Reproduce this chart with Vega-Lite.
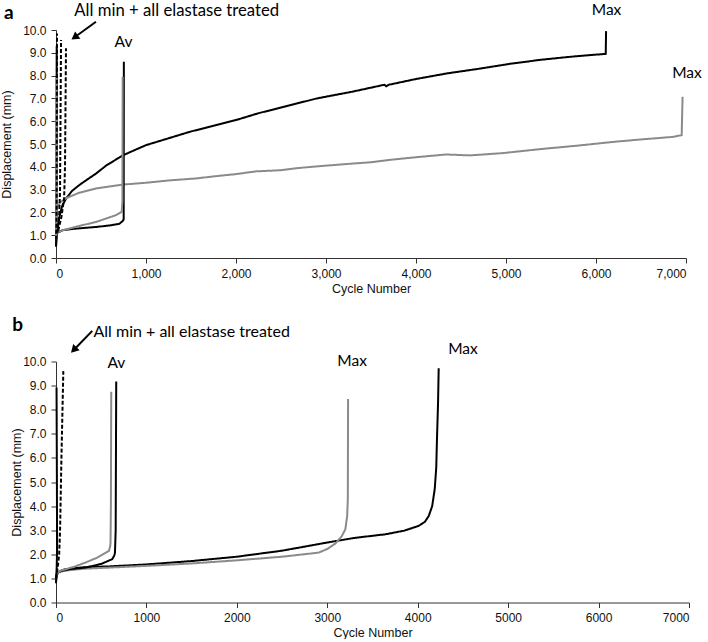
{
  "$schema": "https://vega.github.io/schema/vega-lite/v6.json",
  "padding": {"top": 2, "left": 0, "right": 0, "bottom": 0},
  "columns": 1,
  "align": "none",
  "spacing": 20.5,
  "resolve": {"scale": {"color": "independent", "strokeDash": "independent"}},
  "config": {
    "view": {"stroke": null},
    "font": "Liberation Sans",
    "axis": {
      "grid": false,
      "domainColor": "#333",
      "tickColor": "#333",
      "tickSize": 5,
      "labelFont": "Liberation Sans",
      "labelFontSize": 12,
      "labelColor": "#111",
      "titleFont": "Liberation Sans",
      "titleFontSize": 12.5,
      "titleFontWeight": "normal",
      "titleColor": "#111"
    }
  },
  "concat": [
    {
      "width": 630,
      "height": 228,
      "encoding": {
        "x": {"field": "cycle", "type": "quantitative", "scale": {"domain": [0, 7000], "nice": false},
              "axis": {"title": "Cycle Number", "values": [0, 1000, 2000, 3000, 4000, 5000, 6000, 7000], "format": ",d", "labelPadding": 5, "titlePadding": 3}},
        "y": {"field": "disp", "type": "quantitative", "scale": {"domain": [0, 10], "nice": false},
              "axis": {"title": "Displacement (mm)", "values": [0,1,2,3,4,5,6,7,8,9,10], "format": ".1f", "labelPadding": 5, "titlePadding": 9}}
      },
      "layer": [
        {
          "data": {"values": [
            {"s":"Max A","i":0,"cycle":0,"disp":0.5},{"s":"Max A","i":1,"cycle":10,"disp":1.0},{"s":"Max A","i":2,"cycle":25,"disp":1.5},{"s":"Max A","i":3,"cycle":40,"disp":1.85},{"s":"Max A","i":4,"cycle":70,"disp":2.3},{"s":"Max A","i":5,"cycle":111,"disp":2.6},{"s":"Max A","i":6,"cycle":180,"disp":2.95},{"s":"Max A","i":7,"cycle":259,"disp":3.2},{"s":"Max A","i":8,"cycle":350,"disp":3.45},{"s":"Max A","i":9,"cycle":444,"disp":3.7},{"s":"Max A","i":10,"cycle":556,"disp":4.05},{"s":"Max A","i":11,"cycle":741,"disp":4.5},{"s":"Max A","i":12,"cycle":1000,"disp":4.95},{"s":"Max A","i":13,"cycle":1250,"disp":5.25},{"s":"Max A","i":14,"cycle":1500,"disp":5.55},{"s":"Max A","i":15,"cycle":1750,"disp":5.8},{"s":"Max A","i":16,"cycle":2000,"disp":6.05},{"s":"Max A","i":17,"cycle":2250,"disp":6.35},{"s":"Max A","i":18,"cycle":2500,"disp":6.6},{"s":"Max A","i":19,"cycle":2900,"disp":7.0},{"s":"Max A","i":20,"cycle":3300,"disp":7.3},{"s":"Max A","i":21,"cycle":3650,"disp":7.6},{"s":"Max A","i":22,"cycle":3670,"disp":7.53},{"s":"Max A","i":23,"cycle":3700,"disp":7.6},{"s":"Max A","i":24,"cycle":4000,"disp":7.85},{"s":"Max A","i":25,"cycle":4350,"disp":8.1},{"s":"Max A","i":26,"cycle":4700,"disp":8.3},{"s":"Max A","i":27,"cycle":5050,"disp":8.52},{"s":"Max A","i":28,"cycle":5400,"disp":8.7},{"s":"Max A","i":29,"cycle":5700,"disp":8.82},{"s":"Max A","i":30,"cycle":6000,"disp":8.92},{"s":"Max A","i":31,"cycle":6108,"disp":8.95},{"s":"Max A","i":32,"cycle":6112,"disp":9.95},
            {"s":"Max B","i":0,"cycle":0,"disp":0.8},{"s":"Max B","i":1,"cycle":3,"disp":1.8},{"s":"Max B","i":2,"cycle":8,"disp":2.2},{"s":"Max B","i":3,"cycle":50,"disp":2.45},{"s":"Max B","i":4,"cycle":111,"disp":2.62},{"s":"Max B","i":5,"cycle":250,"disp":2.85},{"s":"Max B","i":6,"cycle":444,"disp":3.05},{"s":"Max B","i":7,"cycle":741,"disp":3.22},{"s":"Max B","i":8,"cycle":1000,"disp":3.3},{"s":"Max B","i":9,"cycle":1250,"disp":3.4},{"s":"Max B","i":10,"cycle":1556,"disp":3.49},{"s":"Max B","i":11,"cycle":1800,"disp":3.6},{"s":"Max B","i":12,"cycle":2000,"disp":3.68},{"s":"Max B","i":13,"cycle":2222,"disp":3.8},{"s":"Max B","i":14,"cycle":2500,"disp":3.85},{"s":"Max B","i":15,"cycle":2700,"disp":3.95},{"s":"Max B","i":16,"cycle":3000,"disp":4.05},{"s":"Max B","i":17,"cycle":3222,"disp":4.12},{"s":"Max B","i":18,"cycle":3500,"disp":4.2},{"s":"Max B","i":19,"cycle":3700,"disp":4.3},{"s":"Max B","i":20,"cycle":4000,"disp":4.42},{"s":"Max B","i":21,"cycle":4333,"disp":4.54},{"s":"Max B","i":22,"cycle":4600,"disp":4.5},{"s":"Max B","i":23,"cycle":4963,"disp":4.6},{"s":"Max B","i":24,"cycle":5200,"disp":4.7},{"s":"Max B","i":25,"cycle":5444,"disp":4.8},{"s":"Max B","i":26,"cycle":5800,"disp":4.93},{"s":"Max B","i":27,"cycle":6185,"disp":5.09},{"s":"Max B","i":28,"cycle":6500,"disp":5.2},{"s":"Max B","i":29,"cycle":6852,"disp":5.31},{"s":"Max B","i":30,"cycle":6952,"disp":5.39},{"s":"Max B","i":31,"cycle":6962,"disp":7.07},
            {"s":"Av A","i":0,"cycle":0,"disp":0.9},{"s":"Av A","i":1,"cycle":10,"disp":1.1},{"s":"Av A","i":2,"cycle":74,"disp":1.22},{"s":"Av A","i":3,"cycle":200,"disp":1.28},{"s":"Av A","i":4,"cycle":444,"disp":1.36},{"s":"Av A","i":5,"cycle":600,"disp":1.43},{"s":"Av A","i":6,"cycle":704,"disp":1.5},{"s":"Av A","i":7,"cycle":741,"disp":1.62},{"s":"Av A","i":8,"cycle":752,"disp":1.7},{"s":"Av A","i":9,"cycle":754,"disp":8.61},
            {"s":"Av B","i":0,"cycle":0,"disp":0.9},{"s":"Av B","i":1,"cycle":10,"disp":1.1},{"s":"Av B","i":2,"cycle":74,"disp":1.22},{"s":"Av B","i":3,"cycle":200,"disp":1.35},{"s":"Av B","i":4,"cycle":444,"disp":1.58},{"s":"Av B","i":5,"cycle":667,"disp":1.88},{"s":"Av B","i":6,"cycle":730,"disp":2.02},{"s":"Av B","i":7,"cycle":738,"disp":2.5},{"s":"Av B","i":8,"cycle":741,"disp":7.95},
            {"s":"Min A","i":0,"cycle":0,"disp":0.5},{"s":"Min A","i":1,"cycle":4,"disp":1.2},{"s":"Min A","i":2,"cycle":6,"disp":5},{"s":"Min A","i":3,"cycle":8,"disp":9.3},
            {"s":"Min B","i":0,"cycle":0,"disp":0.8},{"s":"Min B","i":1,"cycle":3,"disp":2},{"s":"Min B","i":2,"cycle":5,"disp":7.9},
            {"s":"Elastase 1","i":0,"cycle":0,"disp":0.8},{"s":"Elastase 1","i":1,"cycle":5,"disp":1.5},{"s":"Elastase 1","i":2,"cycle":8,"disp":3},{"s":"Elastase 1","i":3,"cycle":11,"disp":9.85},
            {"s":"Elastase 2","i":0,"cycle":15,"disp":1.1},{"s":"Elastase 2","i":1,"cycle":35,"disp":1.8},{"s":"Elastase 2","i":2,"cycle":45,"disp":3},{"s":"Elastase 2","i":3,"cycle":56,"disp":9.56},
            {"s":"Elastase 3","i":0,"cycle":25,"disp":1.2},{"s":"Elastase 3","i":1,"cycle":60,"disp":1.8},{"s":"Elastase 3","i":2,"cycle":90,"disp":2.6},{"s":"Elastase 3","i":3,"cycle":100,"disp":4},{"s":"Elastase 3","i":4,"cycle":111,"disp":9.2}
          ]},
          "mark": {"type": "line", "strokeWidth": 2},
          "encoding": {
            "color": {"field": "s", "type": "nominal", "legend": null,
              "scale": {"domain": ["Max A","Max B","Av A","Av B","Min A","Min B","Elastase 1","Elastase 2","Elastase 3"],
                        "range": ["#000000","#8a8a8a","#000000","#8a8a8a","#000000","#8a8a8a","#000000","#000000","#000000"]}},
            "strokeDash": {"field": "s", "type": "nominal", "legend": null,
              "scale": {"domain": ["Max A","Max B","Av A","Av B","Min A","Min B","Elastase 1","Elastase 2","Elastase 3"],
                        "range": [[1,0],[1,0],[1,0],[1,0],[1,0],[1,0],[4,2],[4,2],[4,2]]}},
            "order": {"field": "i", "type": "quantitative"}
          }
        },
        {
          "data": {"values": [{"cycle": 444, "disp": 10.36, "cycle2": 207, "disp2": 9.68}]},
          "mark": {"type": "rule", "strokeWidth": 2, "color": "#000"},
          "encoding": {"x2": {"field": "cycle2"}, "y2": {"field": "disp2"}}
        },
        {
          "data": {"values": [{"cycle": 207, "disp": 9.68}]},
          "mark": {"type": "point", "shape": "triangle-up", "filled": true, "opacity": 1, "color": "#000", "size": 80, "angle": 234},
          "encoding": {}
        },
        {
          "data": {"values": [{"cycle": 204, "disp": 10.63, "label": "All min + all elastase treated"}]},
          "mark": {"type": "text", "align": "left", "baseline": "alphabetic", "font": "Lato", "fontSize": 16.7, "color": "#000"},
          "encoding": {"text": {"field": "label"}}
        },
        {
          "data": {"values": [
            {"cycle": 750, "disp": 9.27, "label": "Av"},
            {"cycle": 6117, "disp": 10.65, "label": "Max"},
            {"cycle": 7011, "disp": 7.88, "label": "Max"}
          ]},
          "mark": {"type": "text", "align": "center", "baseline": "alphabetic", "font": "Lato", "fontSize": 15.5, "color": "#000"},
          "encoding": {"text": {"field": "label"}}
        },
        {
          "data": {"values": [{"cycle": -578, "disp": 10.5, "label": "a"}]},
          "mark": {"type": "text", "align": "left", "baseline": "alphabetic", "font": "Lato", "fontWeight": "bold", "fontSize": 19, "color": "#000"},
          "encoding": {"text": {"field": "label"}}
        }
      ]
    },
    {
      "width": 633,
      "height": 241,
      "encoding": {
        "x": {"field": "cycle", "type": "quantitative", "scale": {"domain": [0, 7000], "nice": false},
              "axis": {"title": "Cycle Number", "values": [0, 1000, 2000, 3000, 4000, 5000, 6000, 7000], "format": "d", "labelPadding": 5, "titlePadding": 3}},
        "y": {"field": "disp", "type": "quantitative", "scale": {"domain": [0, 10], "nice": false},
              "axis": {"title": "Displacement (mm)", "values": [0,1,2,3,4,5,6,7,8,9,10], "format": ".1f", "labelPadding": 5, "titlePadding": -1}}
      },
      "layer": [
        {
          "data": {"values": [
            {"s":"Max A","i":0,"cycle":0,"disp":0.9},{"s":"Max A","i":1,"cycle":10,"disp":1.15},{"s":"Max A","i":2,"cycle":30,"disp":1.27},{"s":"Max A","i":3,"cycle":100,"disp":1.38},{"s":"Max A","i":4,"cycle":300,"disp":1.46},{"s":"Max A","i":5,"cycle":600,"disp":1.5},{"s":"Max A","i":6,"cycle":1000,"disp":1.58},{"s":"Max A","i":7,"cycle":1500,"disp":1.72},{"s":"Max A","i":8,"cycle":2000,"disp":1.9},{"s":"Max A","i":9,"cycle":2500,"disp":2.15},{"s":"Max A","i":10,"cycle":3017,"disp":2.5},{"s":"Max A","i":11,"cycle":3300,"disp":2.68},{"s":"Max A","i":12,"cycle":3642,"disp":2.83},{"s":"Max A","i":13,"cycle":3850,"disp":2.98},{"s":"Max A","i":14,"cycle":4011,"disp":3.18},{"s":"Max A","i":15,"cycle":4080,"disp":3.35},{"s":"Max A","i":16,"cycle":4122,"disp":3.59},{"s":"Max A","i":17,"cycle":4160,"disp":4.0},{"s":"Max A","i":18,"cycle":4188,"disp":4.7},{"s":"Max A","i":19,"cycle":4205,"disp":5.6},{"s":"Max A","i":20,"cycle":4213,"disp":6.78},{"s":"Max A","i":21,"cycle":4225,"disp":8.3},{"s":"Max A","i":22,"cycle":4232,"disp":9.72},
            {"s":"Max B","i":0,"cycle":0,"disp":0.9},{"s":"Max B","i":1,"cycle":10,"disp":1.15},{"s":"Max B","i":2,"cycle":30,"disp":1.25},{"s":"Max B","i":3,"cycle":100,"disp":1.32},{"s":"Max B","i":4,"cycle":300,"disp":1.4},{"s":"Max B","i":5,"cycle":600,"disp":1.45},{"s":"Max B","i":6,"cycle":1000,"disp":1.52},{"s":"Max B","i":7,"cycle":1500,"disp":1.62},{"s":"Max B","i":8,"cycle":2000,"disp":1.75},{"s":"Max B","i":9,"cycle":2500,"disp":1.9},{"s":"Max B","i":10,"cycle":2906,"disp":2.07},{"s":"Max B","i":11,"cycle":3000,"disp":2.22},{"s":"Max B","i":12,"cycle":3090,"disp":2.45},{"s":"Max B","i":13,"cycle":3160,"disp":2.75},{"s":"Max B","i":14,"cycle":3200,"disp":3.04},{"s":"Max B","i":15,"cycle":3220,"disp":3.6},{"s":"Max B","i":16,"cycle":3227,"disp":4.29},{"s":"Max B","i":17,"cycle":3230,"disp":8.44},
            {"s":"Av A","i":0,"cycle":0,"disp":1.0},{"s":"Av A","i":1,"cycle":10,"disp":1.2},{"s":"Av A","i":2,"cycle":50,"disp":1.3},{"s":"Av A","i":3,"cycle":150,"disp":1.38},{"s":"Av A","i":4,"cycle":327,"disp":1.45},{"s":"Av A","i":5,"cycle":500,"disp":1.6},{"s":"Av A","i":6,"cycle":622,"disp":1.8},{"s":"Av A","i":7,"cycle":645,"disp":1.95},{"s":"Av A","i":8,"cycle":652,"disp":2.07},{"s":"Av A","i":9,"cycle":660,"disp":3},{"s":"Av A","i":10,"cycle":666,"disp":9.17},
            {"s":"Av B","i":0,"cycle":0,"disp":1.0},{"s":"Av B","i":1,"cycle":10,"disp":1.2},{"s":"Av B","i":2,"cycle":50,"disp":1.32},{"s":"Av B","i":3,"cycle":200,"disp":1.48},{"s":"Av B","i":4,"cycle":327,"disp":1.66},{"s":"Av B","i":5,"cycle":450,"disp":1.85},{"s":"Av B","i":6,"cycle":586,"disp":2.14},{"s":"Av B","i":7,"cycle":600,"disp":2.35},{"s":"Av B","i":8,"cycle":603,"disp":2.5},{"s":"Av B","i":9,"cycle":607,"disp":4},{"s":"Av B","i":10,"cycle":611,"disp":8.74},
            {"s":"Min A","i":0,"cycle":0,"disp":0.8},{"s":"Min A","i":1,"cycle":8,"disp":1.5},{"s":"Min A","i":2,"cycle":12,"disp":2.2},{"s":"Min A","i":3,"cycle":10,"disp":5},{"s":"Min A","i":4,"cycle":6,"disp":8.92},
            {"s":"Elastase","i":0,"cycle":0,"disp":1.0},{"s":"Elastase","i":1,"cycle":20,"disp":1.5},{"s":"Elastase","i":2,"cycle":35,"disp":2.0},{"s":"Elastase","i":3,"cycle":45,"disp":3},{"s":"Elastase","i":4,"cycle":60,"disp":6},{"s":"Elastase","i":5,"cycle":81,"disp":9.6}
          ]},
          "mark": {"type": "line", "strokeWidth": 2},
          "encoding": {
            "color": {"field": "s", "type": "nominal", "legend": null,
              "scale": {"domain": ["Max A","Max B","Av A","Av B","Min A","Elastase"],
                        "range": ["#000000","#8a8a8a","#000000","#8a8a8a","#000000","#000000"]}},
            "strokeDash": {"field": "s", "type": "nominal", "legend": null,
              "scale": {"domain": ["Max A","Max B","Av A","Av B","Min A","Elastase"],
                        "range": [[1,0],[1,0],[1,0],[1,0],[1,0],[4,2]]}},
            "order": {"field": "i", "type": "quantitative"}
          }
        },
        {
          "data": {"values": [{"cycle": 401, "disp": 11.27, "cycle2": 196, "disp2": 10.48}]},
          "mark": {"type": "rule", "strokeWidth": 2, "color": "#000"},
          "encoding": {"x2": {"field": "cycle2"}, "y2": {"field": "disp2"}}
        },
        {
          "data": {"values": [{"cycle": 196, "disp": 10.48}]},
          "mark": {"type": "point", "shape": "triangle-up", "filled": true, "opacity": 1, "color": "#000", "size": 80, "angle": 224},
          "encoding": {}
        },
        {
          "data": {"values": [{"cycle": 415, "disp": 11.0, "label": "All min + all elastase treated"}]},
          "mark": {"type": "text", "align": "left", "baseline": "alphabetic", "font": "Lato", "fontSize": 16, "color": "#000"},
          "encoding": {"text": {"field": "label"}}
        },
        {
          "data": {"values": [
            {"cycle": 667, "disp": 9.75, "label": "Av"},
            {"cycle": 3274, "disp": 9.82, "label": "Max"},
            {"cycle": 4500, "disp": 10.3, "label": "Max"}
          ]},
          "mark": {"type": "text", "align": "center", "baseline": "alphabetic", "font": "Lato", "fontSize": 15.5, "color": "#000"},
          "encoding": {"text": {"field": "label"}}
        },
        {
          "data": {"values": [{"cycle": -483, "disp": 11.27, "label": "b"}]},
          "mark": {"type": "text", "align": "left", "baseline": "alphabetic", "font": "Lato", "fontWeight": "bold", "fontSize": 19, "color": "#000"},
          "encoding": {"text": {"field": "label"}}
        }
      ]
    }
  ]
}
